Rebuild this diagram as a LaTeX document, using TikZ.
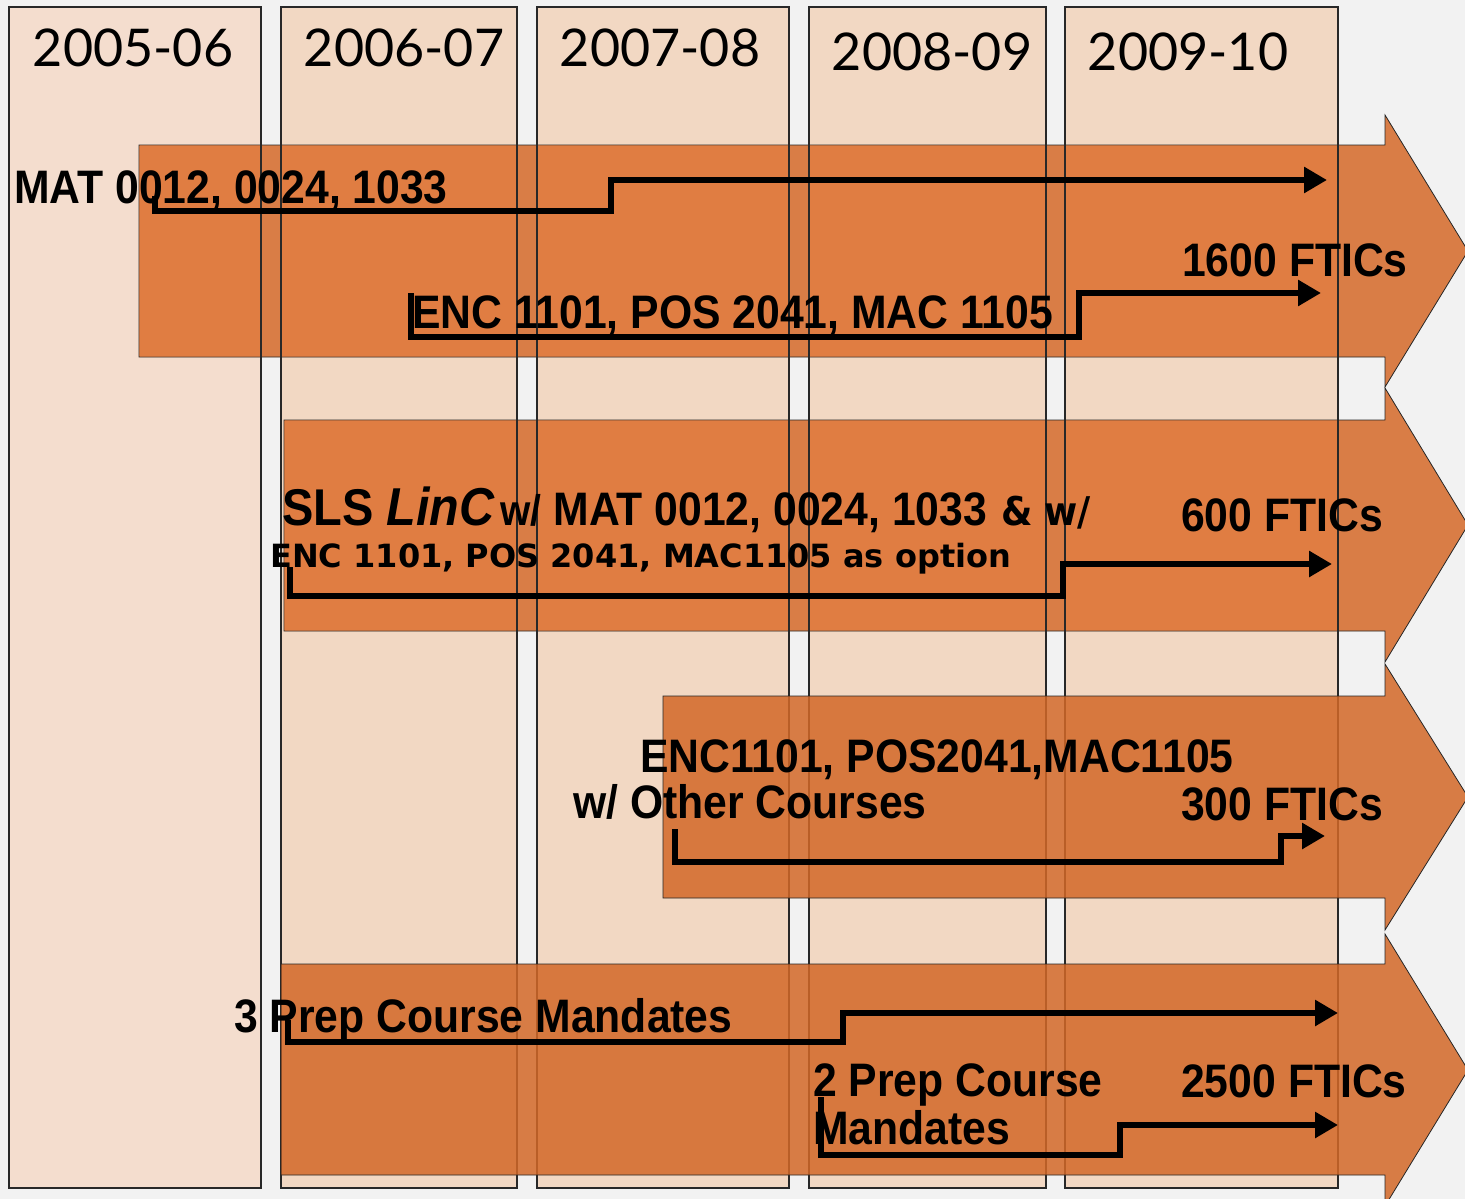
\documentclass[tikz,border=0pt]{standalone}
\usepackage{graphicx}
\usepackage{fontspec}
\setmainfont{Liberation Sans}
\newfontfamily\yearfont{Lato}
\newfontfamily\dvfont{DejaVu Sans}
\usetikzlibrary{arrows.meta}
\definecolor{bg}{RGB}{242,242,242}
\definecolor{colA}{RGB}{244,221,206}
\definecolor{colB}{RGB}{242,216,195}
\definecolor{arrGap}{RGB}{217,125,70}
\definecolor{arrIn}{RGB}{224,125,66}
\definecolor{arrLow}{RGB}{211,104,39}
\definecolor{colline}{RGB}{40,40,40}
\newcommand\tall[1]{\scalebox{1}[1.1]{#1}}
\begin{document}
\begin{tikzpicture}[x=1pt,y=-1pt,
  colbox/.style={draw=colline,line width=1.4pt},
  arrowbody/.style={draw=black!85,line width=0.8pt},
  lowarrow/.style={fill=arrLow,fill opacity=0.85,draw=black!85,line width=0.8pt},
  year/.style={font=\yearfont\fontsize{52}{58}\selectfont,inner sep=0pt,anchor=center},
  lbl/.style={font=\bfseries\fontsize{42.7}{48}\selectfont,inner sep=0pt,anchor=base west},
  conn/.style={line width=6pt,-{Triangle[length=23pt,width=25pt]}}]
\clip (0,0) rectangle (1465,1199);
\fill[bg] (0,0) rectangle (1465,1199);
% columns
\fill[colA] (9,7) rectangle (261,1188);
\fill[colB] (281,7) rectangle (517,1188) (537,7) rectangle (789,1188)
  (809,7) rectangle (1046,1188) (1065,7) rectangle (1338,1188);
% upper arrows
\path[fill=arrGap,arrowbody] (139,145) -- (1385,145) -- (1385,115) -- (1468,251) -- (1385,387) -- (1385,357) -- (139,357) -- cycle;
\path[fill=arrGap,arrowbody] (284,420) -- (1385,420) -- (1385,388) -- (1468,525) -- (1385,662) -- (1385,631) -- (284,631) -- cycle;
\begin{scope}
\clip (139.6,145.6) rectangle (1384.6,356.4) (284.6,420.6) rectangle (1384.6,630.4);
\fill[arrIn] (9,7) rectangle (261,1188) (281,7) rectangle (517,1188) (537,7) rectangle (789,1188)
  (809,7) rectangle (1046,1188) (1065,7) rectangle (1338,1188);
\end{scope}
% column outlines
\draw[colbox] (9,7) rectangle (261,1188);
\draw[colbox] (281,7) rectangle (517,1188);
\draw[colbox] (537,7) rectangle (789,1188);
\draw[colbox] (809,7) rectangle (1046,1188);
\draw[colbox] (1065,7) rectangle (1338,1188);
% lower arrows
\path[lowarrow] (663,696) -- (1385,696) -- (1385,664) -- (1468,797) -- (1385,930) -- (1385,898) -- (663,898) -- cycle;
\path[lowarrow] (281,964) -- (1385,964) -- (1385,934) -- (1468,1070) -- (1385,1206) -- (1385,1175) -- (281,1175) -- cycle;
% year labels
\node[year] (y1) at (133,48) {2005-06};
\node[year] (y2) at (404,48) {2006-07};
\node[year] (y3) at (660,48) {2007-08};
\node[year] (y4) at (932,52) {2008-09};
\node[year] (y5) at (1188,52) {2009-10};
% connectors
\coordinate (a1s) at (155,196); \coordinate (a1b) at (611,211); \coordinate (a1e) at (1327,180);
\coordinate (a2s) at (411,293); \coordinate (a2b) at (1079,337); \coordinate (a2e) at (1321,293);
\coordinate (a3s) at (290,567); \coordinate (a3b) at (1063,596); \coordinate (a3e) at (1332,564);
\coordinate (a4s) at (675,829); \coordinate (a4b) at (1281,862); \coordinate (a4e) at (1325,836);
\coordinate (a5s) at (288,1020); \coordinate (a5b) at (843,1042); \coordinate (a5e) at (1338,1013);
\coordinate (a6s) at (821,1097); \coordinate (a6b) at (1120,1155); \coordinate (a6e) at (1338,1125);
\draw[conn] (a1s) |- (a1b) |- (a1e);
\draw[conn] (a2s) |- (a2b) |- (a2e);
\draw[conn] (a3s) |- (a3b) |- (a3e);
\draw[conn] (a4s) |- (a4b) |- (a4e);
\draw[conn] (a5s) |- (a5b) |- (a5e);
\draw[conn] (a6s) |- (a6b) |- (a6e);
% labels
\node[lbl] (mat) at (14,203) {\tall{MAT 0012, 0024, 1033}};
\node[lbl] (enc) at (412,328) {\tall{ENC 1101, POS 2041, MAC 1105}};
\node[lbl] (f1600) at (1182,276) {\tall{1600 FTICs}};
\node[lbl] (sls) at (282,525) {\tall{{\fontsize{47}{50}\selectfont SLS \fontsize{48.5}{50}\selectfont\itshape LinC}\hspace{6pt}{\fontsize{39}{42}\selectfont w/} MAT 0012, 0024, 1033\hspace{14pt}{\dvfont\fontsize{36}{40}\selectfont \&\hspace{12pt}w/}}};
\node[lbl,font=\dvfont\bfseries\fontsize{32}{36}\selectfont] (opt) at (270,567) {ENC 1101, POS 2041, MAC1105 as option};
\node[lbl] (f600) at (1181,531) {\tall{600 FTICs}};
\node[lbl] (enc2) at (640,772) {\tall{ENC1101, POS2041,MAC1105}};
\node[lbl] (oth) at (573,818) {\tall{w/ Other Courses}};
\node[lbl] (f300) at (1181,820) {\tall{300 FTICs}};
\node[lbl] (prep3) at (234,1032) {\tall{3 Prep Course Mandates}};
\node[lbl] (prep2) at (813,1096) {\tall{2 Prep Course}};
\node[lbl] (mand) at (813,1144) {\tall{Mandates}};
\node[lbl] (f2500) at (1181,1097) {\tall{2500 FTICs}};
\end{tikzpicture}
\end{document}
